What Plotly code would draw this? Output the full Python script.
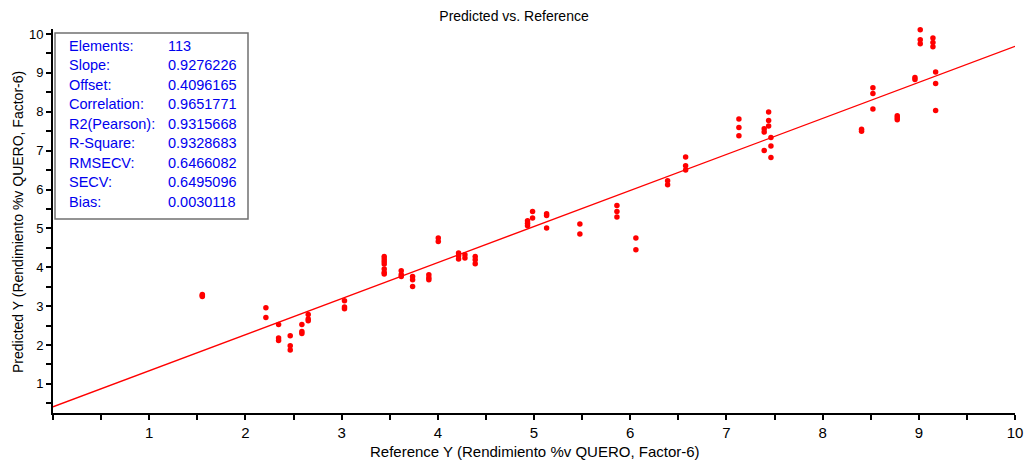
import plotly.graph_objects as go

# ---- data ----
ref_x = [1.552, 1.552, 1.552,
         2.213, 2.213,
         2.345, 2.345, 2.345,
         2.466, 2.466, 2.466,
         2.587, 2.587, 2.587,
         2.653, 2.653, 2.653,
         3.03, 3.03, 3.03,
         3.443, 3.443, 3.443, 3.443, 3.443, 3.443, 3.443,
         3.62, 3.62, 3.62,
         3.738, 3.738, 3.738,
         3.907, 3.907, 3.907,
         4.005, 4.005,
         4.216, 4.216, 4.216,
         4.282, 4.282,
         4.389, 4.389, 4.389,
         4.933, 4.933, 4.933,
         4.985, 4.985,
         5.131, 5.131, 5.131,
         5.477, 5.477,
         5.862, 5.862, 5.862,
         6.059, 6.059,
         6.389, 6.389,
         6.576, 6.576, 6.576,
         7.13, 7.13, 7.13,
         7.393, 7.393, 7.393,
         7.439, 7.439, 7.439,
         7.463, 7.463, 7.463,
         8.405, 8.405,
         8.523, 8.523, 8.523,
         8.776, 8.776, 8.776,
         8.96, 8.96,
         9.015, 9.015, 9.015,
         9.147, 9.147, 9.147,
         9.175, 9.175, 9.175]
pred_y = [3.30, 3.27, 3.25,
          2.957, 2.707,
          2.527, 2.177, 2.115,
          2.236, 1.979, 1.868,
          2.527, 2.347, 2.295,
          2.784, 2.666, 2.622,
          3.14, 2.98, 2.93,
          4.277, 4.21, 4.148, 4.081, 3.952, 3.865, 3.824,
          3.909, 3.814, 3.762,
          3.762, 3.677, 3.505,
          3.806, 3.729, 3.677,
          4.75, 4.663,
          4.364, 4.295, 4.21,
          4.321, 4.236,
          4.277, 4.192, 4.089,
          5.196, 5.131, 5.067,
          5.435, 5.265,
          5.376, 5.332, 5.008,
          5.11, 4.853,
          5.589, 5.435, 5.291,
          4.75, 4.449,
          6.223, 6.12,
          6.835, 6.611, 6.5,
          7.813, 7.597, 7.383,
          7.563, 7.478, 7.005,
          7.993, 7.777, 7.633,
          7.339, 7.118, 6.825,
          7.55, 7.5,
          8.618, 8.471, 8.07,
          7.898, 7.847, 7.795,
          8.883, 8.832,
          10.11, 9.853, 9.75,
          9.897, 9.784, 9.673,
          9.022, 8.729, 8.034]

stat_names = ["Elements:", "Slope:", "Offset:", "Correlation:", "R2(Pearson):",
              "R-Square:", "RMSECV:", "SECV:", "Bias:"]
stat_values = ["113", "0.9276226", "0.4096165", "0.9651771", "0.9315668",
               "0.9328683", "0.6466082", "0.6495096", "0.0030118"]
slope = 0.9276226
offset = 0.4096165
fit_x = [0, 10]
fit_y = [offset + slope * v for v in fit_x]

x_ticks = list(range(1, 11))
y_ticks = list(range(1, 11))

# ---- layout geometry ----
W, H = 1028, 460
L, R, T, B = 53, 13, 29, 47
PW, PH = W - L - R, H - T - B

def px(xp):
    return (xp - L) / PW

def py(yp):
    return 1 - (yp - T) / PH

narrow = "Liberation Sans Narrow, Arial Narrow, Liberation Sans, Arial"
sans = "Liberation Sans, Arial"

fig = go.Figure()
fig.add_trace(go.Scatter(x=fit_x, y=fit_y, mode="lines",
                         line=dict(color="#ff0000", width=1.3),
                         hoverinfo="skip", showlegend=False))
fig.add_trace(go.Scatter(x=ref_x, y=pred_y, mode="markers",
                         marker=dict(color="#ff0000", size=5.5, line=dict(width=0)),
                         cliponaxis=False, showlegend=False))

axis_common = dict(showgrid=False, zeroline=False, showline=True, automargin=False,
                   linecolor="black", linewidth=2, ticks="outside",
                   ticklen=5, tickwidth=1.5, tickcolor="black",
                   minor=dict(ticks="outside", ticklen=5, tickwidth=1.5,
                              tickcolor="black", dtick=0.5))

fig.update_xaxes(range=[0, 10], tickvals=x_ticks, ticktext=[str(v) for v in x_ticks],
                 tickfont=dict(family=narrow, size=15, color="black"),
                 **axis_common)
fig.update_yaxes(range=[0.25, 10.13], tickvals=y_ticks, ticktext=[str(v) for v in y_ticks],
                 tickfont=dict(family=sans, size=13, color="black"),
                 **axis_common)

# axis titles
fig.add_annotation(x=px(535), y=py(451), xref="paper", yref="paper",
                   text="Reference Y (Rendimiento %v QUERO, Factor-6)", showarrow=False,
                   xanchor="center", yanchor="middle",
                   font=dict(family=narrow, size=15, color="black"))
fig.add_annotation(x=px(18), y=py(222), xref="paper", yref="paper",
                   text="Predicted Y (Rendimiento %v QUERO, Factor-6)", showarrow=False,
                   textangle=-90, xanchor="center", yanchor="middle",
                   font=dict(family=sans, size=14, color="black"))

# stats box
fig.add_shape(type="rect", xref="paper", yref="paper",
              x0=px(55), x1=px(248), y0=py(219), y1=py(33),
              line=dict(color="#707070", width=1.5), fillcolor="white", layer="above")
row_y0, row_dy = 46, 19.45
for i, (n, v) in enumerate(zip(stat_names, stat_values)):
    yy = py(row_y0 + i * row_dy)
    fig.add_annotation(x=px(67), y=yy, xref="paper", yref="paper", text=n,
                       showarrow=False, xanchor="left", yanchor="middle",
                       font=dict(family=sans, size=14.5, color="#0000ee"))
    fig.add_annotation(x=px(166), y=yy, xref="paper", yref="paper", text=v,
                       showarrow=False, xanchor="left", yanchor="middle",
                       font=dict(family=sans, size=14.5, color="#0000ee"))

fig.update_layout(
    width=W, height=H,
    margin=dict(l=L, r=R, t=T, b=B),
    paper_bgcolor="white", plot_bgcolor="white",
    title=dict(text="Predicted vs. Reference", x=0.5, xref="container",
               xanchor="center", y=1 - 16 / H, yanchor="middle",
               font=dict(family=narrow, size=14, color="black")),
    showlegend=False,
)

fig.write_html("out.html")
